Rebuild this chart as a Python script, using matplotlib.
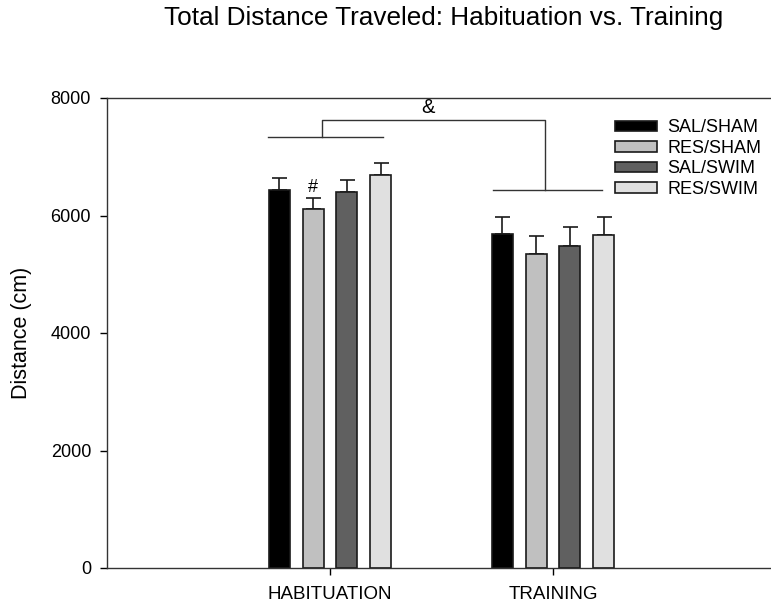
import numpy as np
import matplotlib
matplotlib.use('Agg')
import matplotlib.pyplot as plt

plt.rcParams['font.family'] = ['Liberation Sans', 'DejaVu Sans']

# mean distance (cm) and SEM per group, per session
sessions = ['HABITUATION', 'TRAINING']
groups = ['SAL/SHAM', 'RES/SHAM', 'SAL/SWIM', 'RES/SWIM']
means = {
    'SAL/SHAM': [6430, 5680],
    'RES/SHAM': [6105, 5350],
    'SAL/SWIM': [6395, 5485],
    'RES/SWIM': [6685, 5670],
}
sems = {
    'SAL/SHAM': [210, 300],
    'RES/SHAM': [200, 305],
    'SAL/SWIM': [215, 318],
    'RES/SWIM': [215, 312],
}
colors = ['#000000', '#c0c0c0', '#606060', '#e0e0e0']

fig = plt.figure(figsize=(7.71, 6.09), dpi=100)
ax = fig.add_axes([107/771, 1 - 568/609, 1 - 107/771, (568 - 98)/609])

x = np.array([1, 2])
width = 0.094
step = 0.151
for i, g in enumerate(groups):
    pos = x + (i - 1.5) * step
    ax.bar(pos, means[g], width, color=colors[i], edgecolor='#1a1a1a',
           linewidth=1.2, label=g, zorder=2)
    ax.errorbar(pos, means[g], yerr=[np.zeros(2), sems[g]], fmt='none',
                ecolor='#1a1a1a', elinewidth=1.2, capsize=5.4, capthick=1.2,
                zorder=1)

ax.set_xlim(0, (771 - 107) / 223)
ax.set_ylim(0, 8000)
ax.set_yticks([0, 2000, 4000, 6000, 8000])
ax.set_xticks(x)
ax.set_xticklabels(sessions)
ax.tick_params(axis='y', direction='out', length=5, width=1, labelsize=13, pad=6.5)
ax.tick_params(axis='x', direction='out', length=5, width=1, labelsize=13.5, pad=8)
ax.set_ylabel('Distance (cm)', fontsize=15.5, labelpad=13)

for side in ['left', 'top', 'bottom']:
    ax.spines[side].set_linewidth(1)
    ax.spines[side].set_color('#333333')
ax.spines['right'].set_visible(False)

# session effect bracket
lc = '#333333'
ax.plot([0.722, 1.238], [7340, 7340], color=lc, lw=1)
ax.plot([0.963, 0.963, 1.963, 1.963], [7340, 7625, 7625, 6435], color=lc, lw=1)
ax.plot([1.730, 2.219], [6435, 6435], color=lc, lw=1)
ax.text(1.44, 7830, '&', ha='center', va='center', fontsize=14.5)
ax.text(1 - 0.5 * step, 6480, '#', ha='center', va='center', fontsize=13)

ax.legend(loc='upper left', bbox_to_anchor=(608/771, 1 - 112/609),
          bbox_transform=fig.transFigure, frameon=False, fontsize=13,
          handlelength=2.3, handleheight=0.5, handletextpad=0.6,
          labelspacing=0.2, borderaxespad=0)

fig.text(444/771, 1 - 18.5/609, 'Total Distance Traveled: Habituation vs. Training',
         ha='center', va='center', fontsize=18.8)

fig.savefig('out.png', dpi=100)
